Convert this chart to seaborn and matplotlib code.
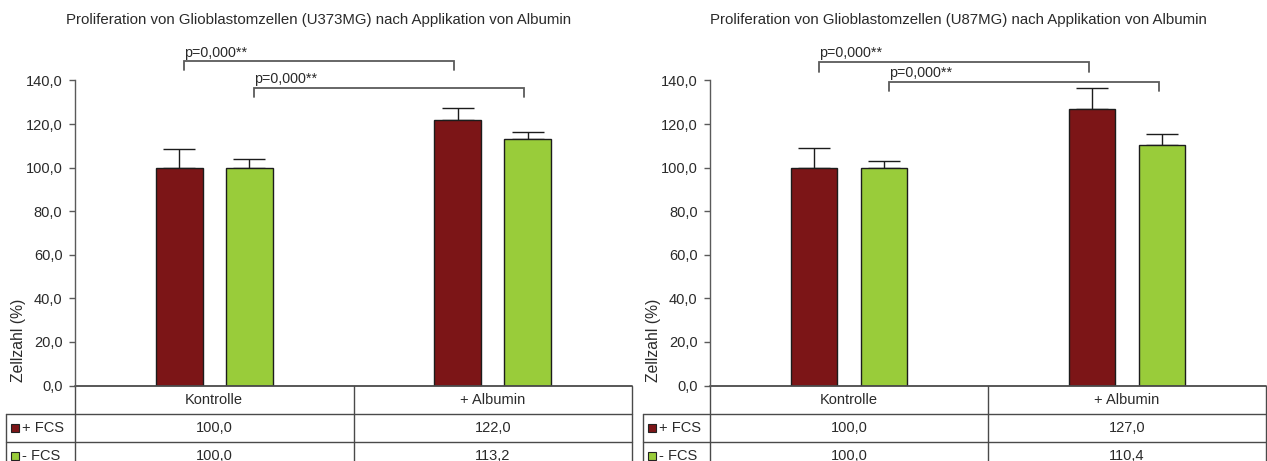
import numpy as np
import pandas as pd
import matplotlib
matplotlib.use("Agg")
import matplotlib.pyplot as plt
import matplotlib.transforms as mtransforms
from matplotlib.lines import Line2D
from matplotlib.patches import Rectangle
from matplotlib.ticker import FuncFormatter
import seaborn as sns

# ---------------- data ----------------
categories = ["Kontrolle", "+ Albumin"]
groups = ["+ FCS", "- FCS"]
titles = ["Proliferation von Glioblastomzellen (U373MG) nach Applikation von Albumin",
          "Proliferation von Glioblastomzellen (U87MG) nach Applikation von Albumin"]

u373_plus_fcs = [100.0, 122.0]
u373_minus_fcs = [100.0, 113.2]
u373_err_plus = [8.4, 5.5]
u373_err_minus = [4.0, 3.3]

u87_plus_fcs = [100.0, 127.0]
u87_minus_fcs = [100.0, 110.4]
u87_err_plus = [9.2, 9.7]
u87_err_minus = [3.1, 5.2]

p_label = "p=0,000**"
y_label = "Zellzahl (%)"
y_ticks = [0, 20, 40, 60, 80, 100, 120, 140]

# ---------------- style ----------------
sns.set_theme(style="white")
plt.rcParams["font.family"] = ["Liberation Sans", "DejaVu Sans"]
TXT = "#2a2a2a"
AX = "#5a5a5a"
RED = "#7c1517"
GREEN = "#99cc3a"
palette = [RED, GREEN]

W, H = 1267, 461
fig = plt.figure(figsize=(W / 100, H / 100), dpi=100)


def fmt(v, _=None):
    return f"{v:.1f}".replace(".", ",")


panels = [
    dict(left=75, right=632, tab_left=6, vals=(u373_plus_fcs, u373_minus_fcs),
         errs=(u373_err_plus, u373_err_minus), title=titles[0], tx=319,
         br=[(148.9, 144.8, 150.9), (136.7, 132.3, 138.7)]),
    dict(left=710, right=1266, tab_left=643, vals=(u87_plus_fcs, u87_minus_fcs),
         errs=(u87_err_plus, u87_err_minus), title=titles[1], tx=958,
         br=[(148.4, 144.0, 150.8), (139.4, 135.2, 141.7)]),
]

y0_px, y140_px = 385.5, 80.5
row_h = 28.0

for pn in panels:
    axw = pn["right"] - pn["left"]
    ax = fig.add_axes([pn["left"] / W, (H - y0_px) / H,
                       axw / W, (y0_px - y140_px) / H])
    plus, minus = pn["vals"]
    eplus, eminus = pn["errs"]
    df = pd.DataFrame({
        "cat": categories * 2,
        "grp": [groups[0]] * 2 + [groups[1]] * 2,
        "val": list(plus) + list(minus),
        "err": list(eplus) + list(eminus),
    })
    sns.barplot(data=df, x="cat", y="val", hue="grp", palette=palette,
                order=categories, hue_order=groups, width=0.502, gap=0.332,
                saturation=1, errorbar=None, edgecolor="#1c1c1c",
                linewidth=1.0, legend=False, ax=ax, zorder=2)

    # error bars (upper only)
    centers = {}
    for patch in ax.patches:
        cx = patch.get_x() + patch.get_width() / 2
        ci = int(round(cx))
        gi = 0 if cx < ci else 1
        row = df[(df["cat"] == categories[ci]) & (df["grp"] == groups[gi])].iloc[0]
        centers[(ci, gi)] = cx
        ax.errorbar([cx], [row["val"]], yerr=[[0], [row["err"]]], fmt="none",
                    ecolor="#1c1c1c", elinewidth=1.0, capsize=11.5,
                    capthick=1.0, zorder=1)

    ax.set_xlim(-0.5, 1.5)
    ax.set_ylim(0, 140)
    ax.set_yticks(y_ticks)
    ax.yaxis.set_major_formatter(FuncFormatter(fmt))
    ax.tick_params(axis="y", length=4, width=1, color=AX, pad=5,
                   labelsize=10.5, labelcolor=TXT, left=True)
    ax.set_xticks([])
    ax.set_xlabel("")
    ax.set_ylabel(y_label, fontsize=11.3, color=TXT)
    ax.yaxis.set_label_coords(-49 / axw, (y0_px - 340) / (y0_px - y140_px))
    for s in ["top", "right", "bottom"]:
        ax.spines[s].set_visible(False)
    ax.spines["left"].set_color(AX)
    ax.spines["left"].set_linewidth(1.0)

    # significance brackets
    pairs = [((0, 0), (1, 0)), ((0, 1), (1, 1))]
    for (a, b), (yh, yb, yt) in zip(pairs, pn["br"]):
        x1 = centers[a] + 0.018
        x2 = centers[b] - 0.012
        ax.plot([x1, x1, x2, x2], [yb, yh, yh, yb], color=AX, lw=1.3,
                clip_on=False, solid_joinstyle="miter")
        ax.text(x1, yt, p_label, fontsize=10.3, color=TXT, ha="left",
                va="baseline", clip_on=False)

    # data table below the axis
    ppu = axw / 2.0  # pixels per category unit
    x_tab_left = -0.5 - (pn["left"] - pn["tab_left"]) / ppu
    axh = y0_px - y140_px
    trans = mtransforms.blended_transform_factory(ax.transData, ax.transAxes)

    def yf(px):
        return (y0_px - px) / axh

    lc = "#4a4a4a"
    ax.add_line(Line2D([-0.5, 1.5], [0, 0], transform=trans, color=lc, lw=1.3,
                       clip_on=False))
    for k in (1, 2, 3):
        ax.add_line(Line2D([x_tab_left, 1.5], [yf(y0_px + k * row_h)] * 2,
                           transform=trans, color=lc, lw=1.0, clip_on=False))
    ybot = yf(y0_px + 3.3 * row_h)
    for xv in (-0.5, 0.5, 1.5):
        ax.add_line(Line2D([xv, xv], [0, ybot], transform=trans, color=lc,
                           lw=1.0, clip_on=False))
    ax.add_line(Line2D([x_tab_left, x_tab_left], [yf(y0_px + row_h), ybot],
                       transform=trans, color=lc, lw=1.0, clip_on=False))

    for i, c in enumerate(categories):
        ax.text(i, yf(y0_px + 0.5 * row_h), c, transform=trans, ha="center",
                va="center", fontsize=10.5, color=TXT, clip_on=False)
    rows = [plus, minus]
    for r, (g, vals) in enumerate(zip(groups, rows)):
        yc = yf(y0_px + (1.5 + r) * row_h)
        for i, v in enumerate(vals):
            ax.text(i, yc, fmt(v), transform=trans, ha="center", va="center",
                    fontsize=10.5, color=TXT, clip_on=False)
        sq_px = 8
        sx = x_tab_left + 5 / ppu
        ax.add_patch(Rectangle((sx, yc - (sq_px / 2) / axh), sq_px / ppu,
                               sq_px / axh, transform=trans,
                               facecolor=palette[r], edgecolor="#222222",
                               lw=0.8, clip_on=False))
        ax.text(x_tab_left + 16 / ppu, yc, g, transform=trans, ha="left",
                va="center", fontsize=10.5, color=TXT, clip_on=False)

    fig.text(pn["tx"] / W, (H - 20) / H, pn["title"], ha="center",
             va="center", fontsize=10.8, color=TXT)

fig.savefig("out.png", dpi=100)
